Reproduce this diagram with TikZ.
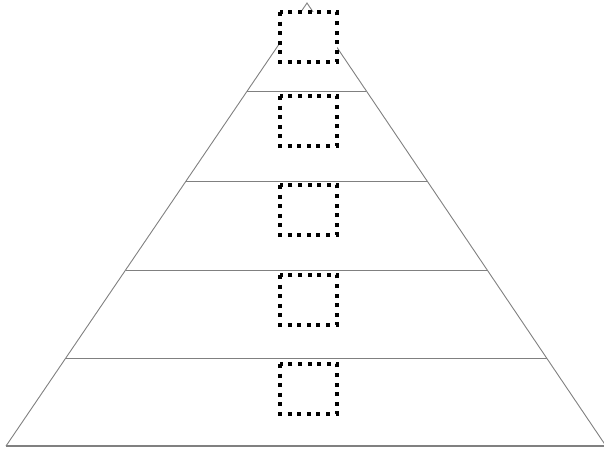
\documentclass[tikz,border=0pt]{standalone}
\begin{document}
\begin{tikzpicture}[x=1pt,y=-1pt,
  edge/.style={draw=black!50, line width=0.9pt},
  dotbox/.style={draw=black, fill=white, line width=4pt, dash pattern=on 4pt off 5.6pt},
]
\useasboundingbox (0,0) rectangle (604,451);
\coordinate (apex) at (307,3);
\coordinate (bl) at (6,446);
\coordinate (br) at (606,446);
\draw[edge] (bl) -- (apex) -- (br);
\draw[edge, line width=1.6pt] (bl) -- (br);
\foreach \y in {91,181,270,358} {
  \pgfmathsetmacro{\f}{(\y-3)/443}
  \coordinate (L\y) at ({307-301*\f},\y);
  \coordinate (R\y) at ({307+299*\f},\y);
  \draw[edge] (L\y) -- (R\y);
}
\foreach \t in {12,96,185,275,364} {
  \draw[dotbox] (280,\t) rectangle (337,{\t+50});
}
\end{tikzpicture}
\end{document}
